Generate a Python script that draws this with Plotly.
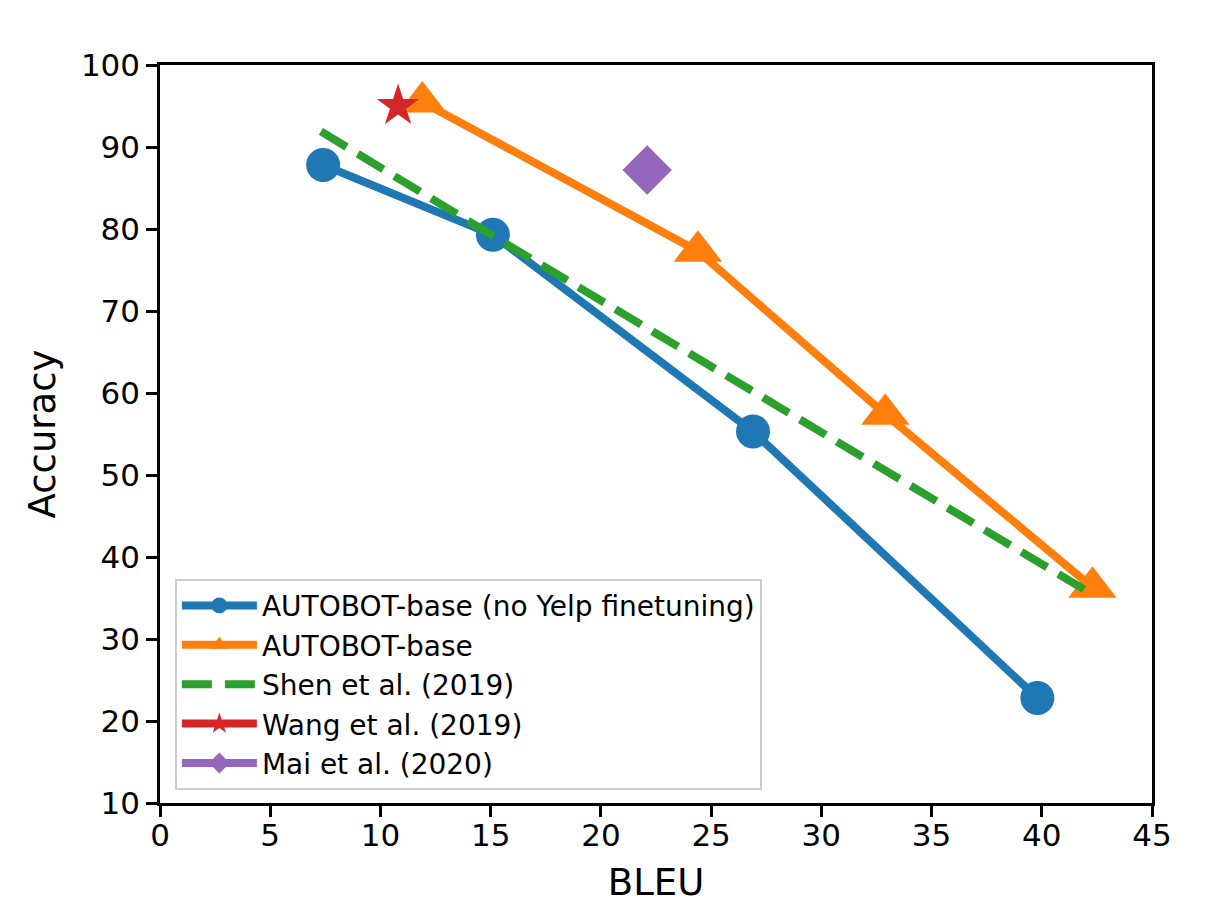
import plotly.graph_objects as go

# ===== DATA =====
autobot_nofinetune_bleu = [7.4, 15.1, 26.9, 39.8]
autobot_nofinetune_acc = [87.8, 79.3, 55.3, 22.8]

autobot_bleu = [11.9, 24.4, 32.9, 42.3]
autobot_acc = [95.5, 77.3, 57.4, 36.3]

shen_bleu = [7.3, 15.2, 42.2]
shen_acc = [91.9, 79.0, 35.6]

wang_bleu = [10.8]
wang_acc = [95.0]

mai_bleu = [22.1]
mai_acc = [87.2]

# tab10 colours
C_BLUE, C_ORANGE, C_GREEN, C_RED, C_PURPLE = "#1f77b4", "#ff7f0e", "#2ca02c", "#d62728", "#9467bd"

FONT = "DejaVu Sans"

# ===== BUILD FIGURE =====
fig = go.Figure()

fig.add_trace(go.Scatter(
    x=autobot_nofinetune_bleu, y=autobot_nofinetune_acc, mode="lines+markers",
    name="AUTOBOT-base (no Yelp finetuning)",
    line=dict(color=C_BLUE, width=8),
    marker=dict(symbol="circle", size=34, color=C_BLUE),
))
fig.add_trace(go.Scatter(
    x=autobot_bleu, y=autobot_acc, mode="lines+markers",
    name="AUTOBOT-base",
    line=dict(color=C_ORANGE, width=8),
    marker=dict(symbol="triangle-up", size=42, color=C_ORANGE),
))
fig.add_trace(go.Scatter(
    x=shen_bleu, y=shen_acc, mode="lines",
    name="Shen et al. (2019)",
    line=dict(color=C_GREEN, width=8, dash="30px,13px"),
))
fig.add_trace(go.Scatter(
    x=wang_bleu, y=wang_acc, mode="lines+markers",
    name="Wang et al. (2019)",
    line=dict(color=C_RED, width=8),
    marker=dict(symbol="star", size=32, color=C_RED),
))
fig.add_trace(go.Scatter(
    x=mai_bleu, y=mai_acc, mode="lines+markers",
    name="Mai et al. (2020)",
    line=dict(color=C_PURPLE, width=8),
    marker=dict(symbol="diamond", size=38, color=C_PURPLE),
))

axis_style = dict(
    showline=True, linecolor="black", linewidth=2.5, mirror=True,
    ticks="outside", ticklen=11, tickwidth=2.5, tickcolor="black",
    showgrid=False, zeroline=False,
    tickfont=dict(family=FONT, size=31, color="black"),
)

# page has an 8px body margin, so the figure is a bit smaller than the window
fig.update_layout(
    width=1222, height=902,
    margin=dict(l=152, r=78, t=57, b=107),
    plot_bgcolor="white", paper_bgcolor="white",
    font=dict(family=FONT, color="black"),
    xaxis=dict(range=[0, 45], dtick=5, tick0=0, ticklabelstandoff=-8,
               title=dict(text="BLEU", font=dict(family=FONT, size=37), standoff=18),
               **axis_style),
    yaxis=dict(range=[10, 100], dtick=10, tick0=10,
               title=dict(text="Accuracy", font=dict(family=FONT, size=37), standoff=14),
               **axis_style),
    legend=dict(
        x=0.015, y=0.018, xanchor="left", yanchor="bottom",
        bgcolor="rgba(255,255,255,0.8)", bordercolor="#cccccc", borderwidth=2,
        font=dict(family=FONT, size=28, color="black"),
        itemwidth=75,
    ),
    showlegend=True,
)

fig.write_html("out.html")
